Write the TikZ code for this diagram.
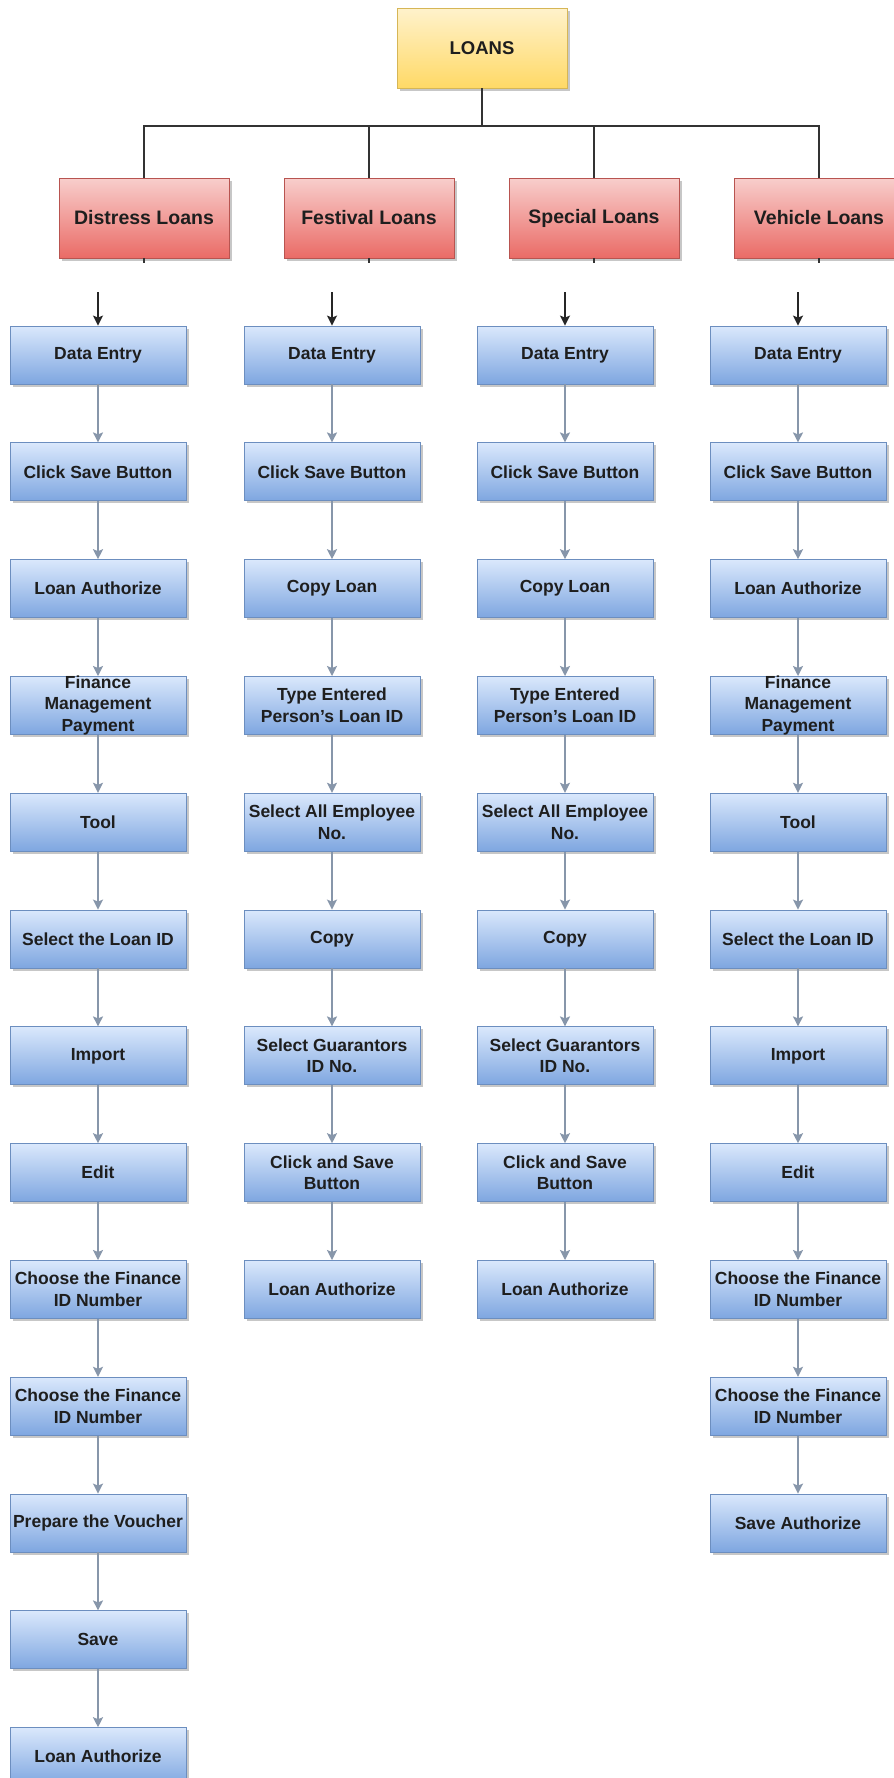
\documentclass[tikz,border=0pt]{standalone}
\usepackage{fontspec}
\setmainfont{Liberation Sans}
\usetikzlibrary{arrows.meta,shadows}
\definecolor{blueT}{HTML}{DAE8FC}
\definecolor{blueB}{HTML}{7EA6E0}
\definecolor{blueS}{HTML}{6C8EBF}
\definecolor{redT}{HTML}{F8CECC}
\definecolor{redB}{HTML}{EA6B66}
\definecolor{redS}{HTML}{B85450}
\definecolor{yelT}{HTML}{FFF2CC}
\definecolor{yelB}{HTML}{FFD966}
\definecolor{yelS}{HTML}{D6B656}
\definecolor{flowc}{HTML}{8796AA}
\definecolor{txt}{HTML}{1E1E1E}
\definecolor{treec}{HTML}{333333}
\begin{document}
\begin{tikzpicture}[x=1pt,y=-1pt,
  shad/.style={drop shadow={shadow xshift=2.5pt,shadow yshift=-2.5pt,fill=black,opacity=0.22}},
  topbox/.style={shad,draw=yelS,line width=0.8pt,top color=yelT,bottom color=yelB,minimum width=170pt,minimum height=80pt,inner sep=0pt,font=\bfseries\fontsize{18.5}{22}\selectfont,text=txt},
  catbox/.style={shad,draw=redS,line width=0.8pt,top color=redT,bottom color=redB,minimum width=170pt,minimum height=80pt,inner sep=0pt,font=\bfseries\fontsize{19.5}{23}\selectfont,text=txt},
  stepbox/.style={shad,draw=blueS,line width=0.8pt,top color=blueT,bottom color=blueB,minimum width=176pt,minimum height=58pt,inner sep=0pt},
  lbl/.style={inner sep=0pt,align=center,font=\bfseries\fontsize{17.5}{21.5}\selectfont,text=txt},
  tree/.style={draw=treec,line width=1.4pt},
  entry/.style={draw=black!85,line width=1.6pt,-{Stealth[length=10pt,width=10pt,inset=2pt]}},
  flow/.style={draw=flowc,line width=1.6pt,-{Stealth[length=10pt,width=10pt,inset=2pt]}}
]
\useasboundingbox (0,0) rectangle (894,1778);
\fill[white] (0,0) rectangle (894,1778);

\node[topbox] (loans) at (482,48) {LOANS};
\coordinate (bus) at (482,126);
\node[catbox] (cat1) at (144,218) {Distress Loans};
\node[catbox] (cat2) at (369,218) {Festival Loans};
\node[catbox] (cat3) at (594,218) {Special Loans};
\node[catbox] (cat4) at (819,218) {Vehicle Loans};
\draw[tree] (loans) -- (bus);
\foreach \k in {1,...,4}{\draw[tree] (bus) -| (cat\k);}
\coordinate (d1) at (144,263);
\coordinate (d2) at (369,263);
\coordinate (d3) at (594,263);
\coordinate (d4) at (819,263);
\foreach \k in {1,...,4}{\draw[tree] (cat\k) -- (d\k);}

% column 1
\foreach \t [count=\i] in {{Data Entry},{Click Save Button},{Loan Authorize},{Finance\\Management\\Payment},{Tool},{Select the Loan ID},{Import},{Edit},{Choose the Finance\\ID Number},{Choose the Finance\\ID Number},{Prepare the Voucher},{Save},{Loan Authorize}}{
  \node[stepbox,label={[lbl]center:\t}] (a\i) at (98,{355+(\i-1)*116.8}) {};
}
% column 2
\foreach \t [count=\i] in {{Data Entry},{Click Save Button},{Copy Loan},{Type Entered\\Person's Loan ID},{Select All Employee\\No.},{Copy},{Select Guarantors\\ID No.},{Click and Save\\Button},{Loan Authorize}}{
  \node[stepbox,label={[lbl]center:\t}] (b\i) at (332,{355+(\i-1)*116.8}) {};
}
% column 3
\foreach \t [count=\i] in {{Data Entry},{Click Save Button},{Copy Loan},{Type Entered\\Person's Loan ID},{Select All Employee\\No.},{Copy},{Select Guarantors\\ID No.},{Click and Save\\Button},{Loan Authorize}}{
  \node[stepbox,label={[lbl]center:\t}] (c\i) at (565,{355+(\i-1)*116.8}) {};
}
% column 4
\foreach \t [count=\i] in {{Data Entry},{Click Save Button},{Loan Authorize},{Finance\\Management\\Payment},{Tool},{Select the Loan ID},{Import},{Edit},{Choose the Finance\\ID Number},{Choose the Finance\\ID Number},{Save Authorize}}{
  \node[stepbox,label={[lbl]center:\t}] (e\i) at (798,{355+(\i-1)*116.8}) {};
}

\coordinate (s1) at (98,292);
\coordinate (s2) at (332,292);
\coordinate (s3) at (565,292);
\coordinate (s4) at (798,292);
\draw[entry] (s1) -- (a1);
\draw[entry] (s2) -- (b1);
\draw[entry] (s3) -- (c1);
\draw[entry] (s4) -- (e1);

\foreach \i [count=\j from 2] in {1,...,12}{\draw[flow] (a\i) -- (a\j);}
\foreach \i [count=\j from 2] in {1,...,8}{\draw[flow] (b\i) -- (b\j);}
\foreach \i [count=\j from 2] in {1,...,8}{\draw[flow] (c\i) -- (c\j);}
\foreach \i [count=\j from 2] in {1,...,10}{\draw[flow] (e\i) -- (e\j);}
\end{tikzpicture}
\end{document}
